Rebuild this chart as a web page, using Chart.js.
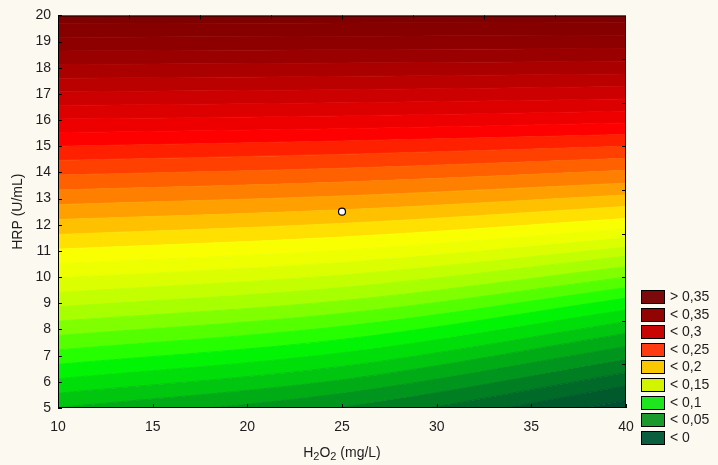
<!DOCTYPE html>
<html lang="en">
<head>
<meta charset="UTF-8">
<title>HRP / H2O2 contour</title>
<script src="https://cdn.jsdelivr.net/npm/chart.js"></script>
<style>
    html, body {
        margin: 0;
        padding: 0;
        background: #fcf9f0;
    }
    canvas {
        display: block;
    }
</style>
</head>
<body>
<canvas id="chart" width="718" height="465"></canvas>
<script>
// contour lines: HRP (U/mL) of each line where it meets H2O2 = 10, 25 and 40
const h2o2Cuts = [10, 25, 40];
const lineAtLeft = [2.27, 2.82, 3.37, 3.92, 4.47, 5.02, 5.57, 6.12, 6.67, 7.22, 7.77, 8.32, 8.87,
    9.42, 9.97, 10.52, 11.07, 11.63, 12.20, 12.77, 13.33, 13.90, 14.46, 15.00, 15.52, 16.04,
    16.56, 17.08, 17.60, 18.12, 18.64, 19.16, 19.68];
const lineAtMid = [3.40, 3.95, 4.49, 5.03, 5.56, 6.08, 6.59, 7.11, 7.62, 8.12, 8.61, 9.10, 9.60,
    10.08, 10.56, 11.03, 11.53, 12.05, 12.57, 13.10, 13.63, 14.16, 14.69, 15.20, 15.67, 16.16,
    16.66, 17.16, 17.67, 18.18, 18.69, 19.20, 19.71];
const lineAtRight = [5.30, 5.85, 6.35, 6.85, 7.35, 7.85, 8.30, 8.75, 9.20, 9.60, 10.00, 10.40, 10.80,
    11.15, 11.50, 11.85, 12.24, 12.70, 13.14, 13.59, 14.08, 14.54, 15.00, 15.45, 15.89, 16.34,
    16.81, 17.28, 17.76, 18.25, 18.74, 19.24, 19.74];
// colour of the band below each line, last one is above the top line
const bandColors = ['#004f30', '#005a2c', '#006a28', '#007e22', '#00951c', '#00ac16', '#00c610',
    '#00de0a', '#00f404', '#26ff00', '#54ff00', '#80ff00', '#a8ff00', '#c4ff00', '#dcff00',
    '#eeff00', '#faff00', '#ffe000', '#ffc000', '#ffa000', '#ff8000', '#ff6000', '#ff4000',
    '#ff2000', '#ff0000', '#ee0000', '#dd0000', '#cc0000', '#bb0000', '#aa0000', '#9a0000',
    '#8e0000', '#860000', '#7e0000'];

const centerH2O2 = [25];
const centerHRP = [12.5];

const topTicks = [13.75, 17.5, 21.25, 25, 28.75, 32.5, 36.25];
const rightTicks = [6.667, 8.333, 10, 11.667, 13.333, 15, 16.667, 18.333];

const legendLabels = ['> 0,35', '< 0,35', '< 0,3', '< 0,25', '< 0,2', '< 0,15', '< 0,1', '< 0,05', '< 0'];
const legendColors = ['#7c0a0a', '#920404', '#c80404', '#ff3a10', '#fac800', '#d2f400', '#1ee61e', '#1a9a2a', '#0b5e3e'];

const FONT = '"Liberation Sans", Arial, sans-serif';
Chart.defaults.font.family = FONT;
Chart.defaults.font.size = 14;
Chart.defaults.color = '#1e1e1e';

function linePoints(i) {
    return [lineAtLeft[i], lineAtMid[i], lineAtRight[i]].map((v, k) => ({ x: h2o2Cuts[k], y: v }));
}

let datasets = [];
lineAtLeft.forEach((yl, i) => {
    datasets.push({
        data: linePoints(i),
        backgroundColor: bandColors[i],
        borderColor: bandColors[i],
        borderWidth: 1,
        pointRadius: 0,
        cubicInterpolationMode: 'monotone',
        fill: i === 0 ? 'start' : '-1'
    });
});
// top band, from the last line up to the frame
const last = lineAtLeft.length - 1;
datasets.push({
    data: linePoints(last),
    backgroundColor: bandColors[last + 1],
    borderWidth: 0,
    pointRadius: 0,
    cubicInterpolationMode: 'monotone',
    fill: 'end'
});
// centre point
datasets.push({
    data: centerH2O2.map((v, i) => ({ x: v, y: centerHRP[i] })),
    showLine: false,
    fill: false,
    pointRadius: 3.5,
    pointBackgroundColor: '#ffffff',
    pointBorderColor: '#000000',
    pointBorderWidth: 1.2,
    order: -1
});

const framePlugin = {
    id: 'frame',
    afterDatasetsDraw(chart) {
        const { ctx, chartArea: a, scales: { x, y } } = chart;
        ctx.save();
        ctx.strokeStyle = '#000';
        ctx.lineWidth = 1;
        ctx.strokeRect(a.left + 0.5, a.top + 0.5, a.right - a.left - 1, a.bottom - a.top - 1);
        ctx.beginPath();
        const t = 4;
        x.ticks.forEach(tk => {
            const px = Math.round(x.getPixelForValue(tk.value)) + 0.5;
            ctx.moveTo(px, a.bottom);
            ctx.lineTo(px, a.bottom - t);
        });
        topTicks.forEach(v => {
            const px = Math.round(x.getPixelForValue(v)) + 0.5;
            ctx.moveTo(px, a.top);
            ctx.lineTo(px, a.top + t);
        });
        y.ticks.forEach(tk => {
            const py = Math.round(y.getPixelForValue(tk.value)) + 0.5;
            ctx.moveTo(a.left, py);
            ctx.lineTo(a.left + t, py);
        });
        rightTicks.forEach(v => {
            const py = Math.round(y.getPixelForValue(v)) + 0.5;
            ctx.moveTo(a.right, py);
            ctx.lineTo(a.right - t, py);
        });
        ctx.stroke();
        ctx.restore();
    },
    afterDraw(chart) {
        const { ctx, chartArea: a } = chart;
        ctx.save();
        // legend
        const bx = 641, by = 290, step = 17.6, bw = 24, bh = 14;
        ctx.textBaseline = 'middle';
        ctx.font = '14px ' + FONT;
        legendLabels.forEach((lab, i) => {
            const top = Math.round(by + i * step);
            ctx.fillStyle = legendColors[i];
            ctx.fillRect(bx, top, bw, bh);
            ctx.strokeStyle = '#000';
            ctx.lineWidth = 1;
            ctx.strokeRect(bx + 0.5, top + 0.5, bw - 1, bh - 1);
            ctx.fillStyle = '#1e1e1e';
            ctx.fillText(lab, bx + bw + 5, top + bh / 2 + 0.5);
        });
        // x axis title with subscripts
        const parts = [['H', 0], ['2', 1], ['O', 0], ['2', 1], [' (mg/L)', 0]];
        const big = '14px ' + FONT, small = '11px ' + FONT;
        let w = 0;
        parts.forEach(p => { ctx.font = p[1] ? small : big; w += ctx.measureText(p[0]).width; });
        let cx = (a.left + a.right) / 2 - w / 2;
        const base = 457;
        ctx.textBaseline = 'alphabetic';
        ctx.fillStyle = '#1e1e1e';
        parts.forEach(p => {
            ctx.font = p[1] ? small : big;
            ctx.fillText(p[0], cx, p[1] ? base + 3 : base);
            cx += ctx.measureText(p[0]).width;
        });
        ctx.restore();
    }
};

new Chart(document.getElementById('chart'), {
    type: 'line',
    data: { datasets: datasets },
    options: {
        responsive: false,
        animation: false,
        devicePixelRatio: 1,
        layout: { padding: { top: 10, right: 92, left: 0, bottom: 0 } },
        plugins: {
            legend: { display: false },
            tooltip: { enabled: false }
        },
        scales: {
            x: {
                type: 'linear',
                min: 10,
                max: 40,
                ticks: { stepSize: 5, padding: 11 },
                grid: { display: false, drawTicks: false },
                border: { display: false },
                afterFit(scale) { scale.height = 57; }
            },
            y: {
                type: 'linear',
                min: 5,
                max: 20,
                ticks: { stepSize: 1, padding: 7 },
                grid: { display: false, drawTicks: false },
                border: { display: false },
                title: { display: true, text: 'HRP (U/mL)', padding: { top: 10, bottom: 0 }, font: { size: 14 } },
                afterFit(scale) { scale.width = 58; }
            }
        }
    },
    plugins: [framePlugin]
});
</script>
</body>
</html>
